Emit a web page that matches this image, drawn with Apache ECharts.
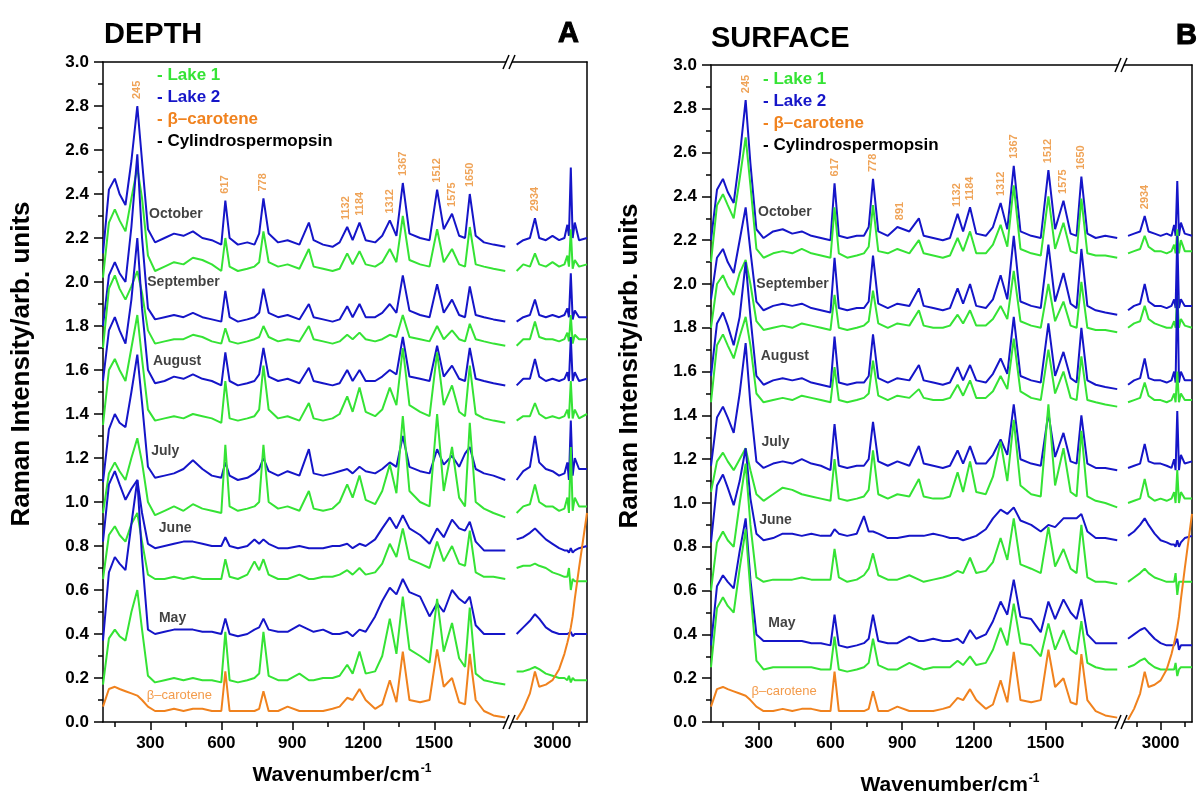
<!DOCTYPE html>
<html><head><meta charset="utf-8">
<script src="https://cdn.jsdelivr.net/npm/echarts@6/dist/echarts.min.js"></script>
<style>html,body{margin:0;padding:0;background:#fff}#c{width:1197px;height:798px}</style>
</head><body><div id="c"></div>
<script>
// ---------- DATA ----------
const wn1 = [100,125,150,170,195,220,245,265,290, 320,360,400,440,480,520,560,600, 617,635,670,710,740,760,778,800, 840,880,930,970,990,1030,1070,1100, 1132,1155,1184,1210,1250,1280,1312,1340, 1367,1395,1440,1480,1512,1540,1575,1605, 1630,1650,1675,1710,1750,1800];
const wn2 = [2865,2890,2915,2934,2950,2975,3000,3025,3045,3056,3062,3069,3076,3084,3100,3130];
const xTickLabels1 = [300,600,900,1200,1500];
const xMinorTicks1 = [150,450,750,1050,1350,1650];
const xTickLabels2 = [3000];
const xMinorTicks2 = [2900,3100];

// DEPTH (panel A)
const depthOctL2 = [2.13,2.42,2.47,2.40,2.35,2.55,2.80,2.55,2.24, 2.18,2.20,2.22,2.21,2.23,2.20,2.19,2.17, 2.37,2.20,2.17,2.18,2.17,2.22,2.38,2.22, 2.18,2.19,2.17,2.27,2.19,2.17,2.16,2.18, 2.25,2.19,2.27,2.19,2.18,2.21,2.28,2.21, 2.45,2.22,2.20,2.19,2.42,2.24,2.31,2.21, 2.20,2.40,2.21,2.18,2.17,2.16];
const depthOctL1 = [2.02,2.27,2.33,2.28,2.23,2.38,2.52,2.38,2.12, 2.05,2.07,2.09,2.08,2.11,2.10,2.08,2.05, 2.20,2.07,2.05,2.06,2.07,2.09,2.23,2.09, 2.07,2.08,2.06,2.15,2.07,2.06,2.05,2.06, 2.13,2.08,2.14,2.08,2.07,2.09,2.15,2.09, 2.30,2.10,2.08,2.07,2.24,2.09,2.15,2.08, 2.07,2.25,2.08,2.07,2.06,2.05];
const depthSepL2 = [1.80,2.03,2.09,2.04,2.00,2.25,2.58,2.20,1.88, 1.83,1.84,1.85,1.84,1.86,1.84,1.83,1.82, 1.96,1.84,1.82,1.83,1.84,1.86,1.97,1.86, 1.84,1.85,1.83,1.90,1.84,1.83,1.82,1.83, 1.89,1.84,1.90,1.84,1.84,1.86,1.90,1.86, 2.03,1.87,1.85,1.84,1.99,1.86,1.92,1.85, 1.84,1.98,1.85,1.84,1.83,1.82];
const depthSepL1 = [1.70,1.97,2.03,1.97,1.92,1.98,2.05,1.95,1.78, 1.72,1.73,1.74,1.74,1.76,1.75,1.73,1.72, 1.79,1.73,1.72,1.73,1.74,1.75,1.80,1.75, 1.73,1.74,1.73,1.80,1.74,1.73,1.72,1.73, 1.76,1.74,1.77,1.74,1.73,1.74,1.76,1.75, 1.85,1.75,1.74,1.73,1.80,1.74,1.78,1.74, 1.73,1.81,1.74,1.73,1.72,1.71];
const depthAugL2 = [1.55,1.78,1.84,1.78,1.72,1.92,2.20,1.88,1.60, 1.54,1.55,1.57,1.56,1.58,1.56,1.55,1.53, 1.68,1.55,1.53,1.54,1.55,1.58,1.70,1.57, 1.55,1.56,1.54,1.61,1.55,1.54,1.53,1.54, 1.60,1.55,1.60,1.55,1.55,1.57,1.60,1.58, 1.75,1.57,1.56,1.55,1.71,1.57,1.62,1.56, 1.55,1.70,1.56,1.55,1.54,1.53];
const depthAugL1 = [1.35,1.60,1.65,1.60,1.55,1.70,1.85,1.65,1.42, 1.37,1.38,1.39,1.38,1.40,1.39,1.38,1.36, 1.55,1.38,1.37,1.38,1.39,1.42,1.62,1.42, 1.38,1.39,1.37,1.45,1.38,1.37,1.38,1.40, 1.48,1.41,1.52,1.41,1.39,1.42,1.52,1.44, 1.70,1.44,1.41,1.39,1.68,1.44,1.53,1.41, 1.39,1.62,1.40,1.38,1.37,1.36];
const depthJulL2 = [1.09,1.33,1.40,1.36,1.34,1.50,1.67,1.45,1.16, 1.11,1.12,1.13,1.15,1.19,1.15,1.12,1.11, 1.18,1.12,1.10,1.11,1.13,1.15,1.20,1.14, 1.12,1.14,1.12,1.24,1.13,1.12,1.13,1.14, 1.15,1.13,1.16,1.14,1.13,1.15,1.18,1.16, 1.30,1.16,1.14,1.13,1.24,1.17,1.21,1.16, 1.22,1.25,1.15,1.13,1.12,1.10];
const depthJulL1 = [0.95,1.13,1.18,1.14,1.10,1.20,1.29,1.18,1.00, 0.94,0.96,0.98,0.96,0.99,0.97,0.96,0.95, 1.26,0.98,0.96,0.97,0.98,1.00,1.26,1.00, 0.97,0.98,0.96,1.05,0.97,0.96,0.97,1.00, 1.08,1.02,1.12,1.01,0.99,1.05,1.17,1.04, 1.39,1.05,1.00,0.98,1.40,1.05,1.25,1.02, 0.98,1.36,1.00,0.97,0.95,0.93];
const depthJunL2 = [0.82,1.08,1.14,1.08,1.01,1.06,1.10,0.95,0.81, 0.79,0.80,0.81,0.82,0.82,0.81,0.80,0.80, 0.84,0.80,0.79,0.80,0.83,0.81,0.83,0.81, 0.79,0.79,0.80,0.79,0.79,0.79,0.80,0.80, 0.81,0.79,0.81,0.80,0.83,0.88,0.93,0.88, 0.94,0.88,0.85,0.81,0.88,0.84,0.92,0.88, 0.87,0.91,0.82,0.78,0.78,0.78];
const depthJunL1 = [0.65,0.85,0.89,0.85,0.82,0.90,0.95,0.82,0.67, 0.65,0.65,0.66,0.65,0.66,0.65,0.65,0.65, 0.74,0.66,0.65,0.67,0.73,0.69,0.74,0.67, 0.65,0.65,0.67,0.65,0.65,0.66,0.66,0.67, 0.69,0.67,0.70,0.67,0.68,0.72,0.81,0.75, 0.88,0.74,0.72,0.70,0.82,0.73,0.80,0.72, 0.71,0.87,0.68,0.66,0.66,0.65];
const depthMayL2 = [0.37,0.68,0.75,0.72,0.69,0.90,1.10,0.75,0.42, 0.40,0.41,0.42,0.42,0.42,0.41,0.41,0.40, 0.47,0.40,0.39,0.40,0.42,0.43,0.47,0.42, 0.41,0.41,0.44,0.42,0.41,0.42,0.40,0.40, 0.41,0.39,0.42,0.41,0.48,0.55,0.61,0.58, 0.65,0.59,0.57,0.48,0.54,0.50,0.60,0.56, 0.54,0.57,0.44,0.40,0.40,0.40];
const depthMayL1 = [0.17,0.38,0.42,0.39,0.37,0.50,0.60,0.42,0.21, 0.18,0.19,0.20,0.19,0.20,0.19,0.19,0.18, 0.41,0.19,0.18,0.19,0.20,0.22,0.41,0.21, 0.19,0.19,0.22,0.19,0.19,0.20,0.20,0.21, 0.26,0.22,0.32,0.22,0.23,0.30,0.47,0.31, 0.57,0.33,0.30,0.27,0.56,0.32,0.45,0.29, 0.25,0.52,0.22,0.19,0.18,0.17];
const carotene = [0.07,0.15,0.16,0.15,0.14,0.13,0.12,0.10,0.07, 0.05,0.05,0.06,0.05,0.06,0.06,0.05,0.05, 0.23,0.05,0.05,0.05,0.05,0.06,0.14,0.05, 0.05,0.07,0.05,0.05,0.05,0.05,0.06,0.07, 0.11,0.10,0.15,0.10,0.06,0.08,0.19,0.09, 0.32,0.10,0.09,0.10,0.33,0.16,0.20,0.09, 0.08,0.31,0.10,0.05,0.03,0.02];

const depthOctL2Hi = [2.17,2.19,2.20,2.29,2.20,2.19,2.21,2.19,2.20,2.26,2.21,2.52,2.20,2.27,2.19,2.20];
const depthOctL1Hi = [2.05,2.08,2.07,2.13,2.08,2.07,2.09,2.07,2.08,2.12,2.07,2.24,2.06,2.10,2.07,2.08];
const depthSepL2Hi = [1.82,1.84,1.85,1.92,1.85,1.84,1.85,1.84,1.85,1.88,1.84,2.04,1.83,1.87,1.84,1.84];
const depthSepL1Hi = [1.71,1.74,1.74,1.82,1.75,1.74,1.74,1.73,1.74,1.77,1.73,1.85,1.72,1.76,1.74,1.74];
const depthAugL2Hi = [1.53,1.56,1.56,1.65,1.57,1.55,1.56,1.55,1.56,1.59,1.55,1.75,1.55,1.59,1.55,1.56];
const depthAugL1Hi = [1.37,1.39,1.39,1.45,1.40,1.38,1.39,1.38,1.39,1.42,1.38,1.55,1.38,1.42,1.38,1.40];
const depthJulL2Hi = [1.10,1.14,1.16,1.30,1.18,1.15,1.14,1.12,1.13,1.18,1.10,1.37,1.12,1.20,1.15,1.15];
const depthJulL1Hi = [0.95,0.98,0.99,1.08,1.00,0.98,0.98,0.96,0.97,1.02,0.95,1.25,0.96,1.02,0.98,0.98];
const depthJunL2Hi = [0.83,0.84,0.86,0.88,0.86,0.83,0.81,0.79,0.78,0.78,0.77,0.79,0.77,0.78,0.79,0.80];
const depthJunL1Hi = [0.70,0.71,0.71,0.72,0.71,0.70,0.68,0.67,0.66,0.66,0.70,0.60,0.65,0.64,0.64,0.64];
const depthMayL2Hi = [0.40,0.43,0.46,0.49,0.47,0.43,0.41,0.40,0.40,0.40,0.40,0.41,0.39,0.40,0.40,0.40];
const depthMayL1Hi = [0.23,0.23,0.24,0.25,0.24,0.22,0.21,0.20,0.20,0.19,0.21,0.18,0.20,0.19,0.19,0.19];
const caroteneHi   = [0.01,0.06,0.13,0.23,0.16,0.17,0.19,0.24,0.31,0.36,0.39,0.43,0.48,0.56,0.70,0.95];

// SURFACE (panel B)
const surfOctL2 = [2.20,2.43,2.48,2.42,2.37,2.58,2.84,2.55,2.25, 2.21,2.24,2.25,2.23,2.24,2.22,2.21,2.20, 2.46,2.22,2.21,2.22,2.22,2.26,2.48,2.24, 2.22,2.26,2.24,2.30,2.22,2.21,2.20,2.21, 2.32,2.24,2.35,2.23,2.22,2.26,2.37,2.25, 2.54,2.24,2.22,2.21,2.52,2.25,2.38,2.23, 2.22,2.49,2.23,2.21,2.22,2.21];
const surfOctL1 = [2.10,2.36,2.41,2.36,2.30,2.48,2.67,2.45,2.16, 2.12,2.14,2.15,2.14,2.16,2.14,2.13,2.12, 2.35,2.14,2.12,2.13,2.14,2.17,2.36,2.15, 2.14,2.16,2.14,2.20,2.14,2.13,2.12,2.13, 2.21,2.15,2.24,2.14,2.14,2.18,2.27,2.17, 2.45,2.16,2.14,2.13,2.40,2.16,2.28,2.15, 2.14,2.39,2.14,2.13,2.13,2.12];
const surfSepL2 = [1.93,2.12,2.16,2.10,2.05,2.20,2.35,2.15,1.92, 1.88,1.90,1.91,1.90,1.91,1.89,1.88,1.87, 2.12,1.89,1.88,1.89,1.89,1.92,2.13,1.91, 1.89,1.91,1.90,1.98,1.90,1.89,1.88,1.89, 1.98,1.91,2.00,1.90,1.89,1.93,2.04,1.93, 2.22,1.92,1.90,1.89,2.18,1.92,2.05,1.91, 1.89,2.16,1.90,1.88,1.87,1.86];
const surfSepL1 = [1.80,2.00,2.04,1.99,1.95,2.05,2.11,2.00,1.83, 1.79,1.80,1.81,1.80,1.82,1.81,1.80,1.79, 1.95,1.80,1.79,1.80,1.81,1.83,1.97,1.82, 1.80,1.82,1.81,1.88,1.81,1.80,1.80,1.81, 1.86,1.82,1.88,1.81,1.81,1.84,1.90,1.84, 2.06,1.83,1.81,1.80,2.00,1.83,1.92,1.81, 1.80,2.01,1.80,1.79,1.79,1.78];
const surfAugL2 = [1.58,1.82,1.87,1.81,1.72,1.85,2.10,1.85,1.58, 1.54,1.56,1.57,1.56,1.57,1.55,1.54,1.53, 1.76,1.55,1.54,1.55,1.55,1.58,1.77,1.57, 1.55,1.57,1.56,1.63,1.56,1.55,1.54,1.55, 1.62,1.56,1.63,1.56,1.55,1.59,1.66,1.59, 1.85,1.58,1.56,1.55,1.82,1.58,1.69,1.57, 1.55,1.80,1.56,1.54,1.53,1.52];
const surfAugL1 = [1.46,1.72,1.77,1.72,1.66,1.76,1.85,1.72,1.50, 1.46,1.47,1.48,1.47,1.49,1.48,1.47,1.46, 1.62,1.47,1.46,1.47,1.48,1.50,1.65,1.49, 1.47,1.49,1.48,1.52,1.48,1.47,1.47,1.48, 1.54,1.49,1.56,1.48,1.48,1.51,1.58,1.52, 1.75,1.51,1.48,1.47,1.70,1.50,1.60,1.48, 1.47,1.67,1.47,1.46,1.45,1.44];
const surfJulL2 = [1.17,1.39,1.44,1.39,1.32,1.50,1.73,1.45,1.19, 1.16,1.18,1.19,1.18,1.20,1.18,1.17,1.15, 1.36,1.17,1.16,1.17,1.17,1.20,1.37,1.19, 1.17,1.19,1.17,1.26,1.18,1.17,1.16,1.17, 1.24,1.18,1.26,1.18,1.18,1.22,1.29,1.22, 1.45,1.20,1.18,1.17,1.41,1.21,1.32,1.19, 1.18,1.40,1.18,1.16,1.16,1.15];
const surfJulL1 = [1.05,1.19,1.23,1.19,1.15,1.20,1.25,1.15,1.04, 1.01,1.04,1.07,1.06,1.04,1.03,1.02,1.01, 1.20,1.02,1.01,1.02,1.03,1.06,1.24,1.04, 1.02,1.04,1.03,1.11,1.03,1.02,1.02,1.03, 1.14,1.05,1.19,1.05,1.04,1.12,1.28,1.10, 1.38,1.08,1.04,1.03,1.45,1.08,1.25,1.05, 1.03,1.33,1.03,1.01,1.00,0.98];
const surfJunL2 = [0.82,1.08,1.13,1.07,0.99,1.10,1.25,1.02,0.86, 0.83,0.84,0.86,0.86,0.85,0.86,0.85,0.85, 0.88,0.86,0.85,0.86,0.94,0.87,0.87,0.86, 0.84,0.84,0.85,0.85,0.85,0.86,0.85,0.84, 0.84,0.83,0.84,0.85,0.88,0.93,0.97,0.95, 0.98,0.92,0.90,0.87,0.90,0.89,0.93,0.93, 0.93,0.95,0.87,0.84,0.84,0.83];
const surfJunL1 = [0.60,0.82,0.87,0.83,0.80,1.00,1.18,0.90,0.66, 0.64,0.65,0.65,0.65,0.66,0.65,0.65,0.65, 0.79,0.66,0.64,0.65,0.67,0.70,0.77,0.67, 0.65,0.65,0.67,0.65,0.64,0.65,0.66,0.67, 0.69,0.68,0.75,0.68,0.69,0.73,0.84,0.74, 0.93,0.72,0.70,0.68,0.89,0.71,0.79,0.70, 0.68,0.90,0.66,0.64,0.64,0.63];
const surfMayL2 = [0.35,0.62,0.67,0.64,0.61,0.78,0.93,0.65,0.40, 0.37,0.37,0.37,0.37,0.37,0.36,0.36,0.35, 0.49,0.35,0.34,0.35,0.36,0.38,0.49,0.37, 0.36,0.36,0.39,0.37,0.37,0.38,0.37,0.37, 0.38,0.36,0.42,0.38,0.40,0.46,0.55,0.49, 0.65,0.48,0.47,0.41,0.55,0.47,0.56,0.50, 0.47,0.56,0.40,0.36,0.36,0.36];
const surfMayL1 = [0.25,0.52,0.57,0.53,0.50,0.70,0.88,0.60,0.28, 0.24,0.25,0.25,0.25,0.25,0.25,0.24,0.24, 0.39,0.24,0.23,0.24,0.25,0.27,0.38,0.26, 0.24,0.24,0.27,0.25,0.24,0.25,0.25,0.25, 0.28,0.26,0.30,0.26,0.27,0.33,0.43,0.35, 0.54,0.36,0.35,0.30,0.45,0.33,0.42,0.33, 0.31,0.46,0.27,0.25,0.24,0.24];

const surfOctL2Hi = [2.22,2.23,2.24,2.31,2.24,2.23,2.22,2.23,2.22,2.27,2.22,2.47,2.22,2.28,2.23,2.22];
const surfOctL1Hi = [2.14,2.15,2.16,2.22,2.17,2.15,2.15,2.14,2.15,2.18,2.14,2.25,2.14,2.20,2.15,2.15];
const surfSepL2Hi = [1.88,1.90,1.91,2.00,1.92,1.90,1.90,1.89,1.90,1.93,1.89,2.22,1.89,1.93,1.90,1.90];
const surfSepL1Hi = [1.80,1.82,1.83,1.90,1.84,1.82,1.81,1.80,1.80,1.83,1.80,1.95,1.80,1.84,1.81,1.80];
const surfAugL2Hi = [1.54,1.56,1.57,1.66,1.57,1.56,1.56,1.55,1.56,1.60,1.55,2.02,1.55,1.60,1.56,1.56];
const surfAugL1Hi = [1.46,1.47,1.48,1.55,1.49,1.47,1.47,1.46,1.47,1.50,1.46,1.60,1.46,1.50,1.47,1.47];
const surfJulL2Hi = [1.16,1.17,1.18,1.27,1.19,1.18,1.18,1.17,1.16,1.20,1.15,1.42,1.15,1.22,1.18,1.19];
const surfJulL1Hi = [1.00,1.01,1.02,1.11,1.03,1.01,1.02,1.01,1.02,1.05,1.00,1.15,1.00,1.05,1.02,1.02];
const surfJunL2Hi = [0.85,0.87,0.90,0.93,0.90,0.86,0.83,0.82,0.81,0.81,0.80,0.83,0.80,0.82,0.84,0.85];
const surfJunL1Hi = [0.64,0.66,0.68,0.70,0.68,0.66,0.65,0.64,0.64,0.64,0.68,0.58,0.64,0.64,0.64,0.64];
const surfMayL2Hi = [0.38,0.40,0.42,0.43,0.41,0.38,0.36,0.35,0.35,0.35,0.35,0.38,0.33,0.35,0.35,0.35];
const surfMayL1Hi = [0.25,0.26,0.28,0.29,0.27,0.25,0.24,0.24,0.24,0.24,0.27,0.21,0.24,0.25,0.25,0.25];

// annotations
const monthNames = ['October','September','August','July','June','May'];
const depthMonthAt = [[408,2.31],[440,2.00],[413,1.64],[363,1.23],[405,0.88],[394,0.47]];
const surfMonthAt  = [[409,2.33],[441,2.00],[409,1.67],[370,1.28],[370,0.92],[397,0.45]];
const depthCaroteneAt = [423,0.12];
const surfCaroteneAt  = [406,0.14];
const depthPeakNames = ['245','617','778','1132','1184','1312','1367','1512','1575','1650'];
const depthPeakAt = [[245,2.82],[617,2.39],[778,2.40],[1126,2.27],[1184,2.29],[1312,2.30],[1367,2.47],[1512,2.44],[1575,2.33],[1650,2.42]];
const surfPeakNames = ['245','617','778','891','1132','1184','1312','1367','1512','1575','1650'];
const surfPeakAt = [[245,2.86],[617,2.48],[778,2.50],[891,2.28],[1128,2.34],[1184,2.37],[1312,2.39],[1367,2.56],[1512,2.54],[1575,2.40],[1650,2.51]];
const hiPeakName = '2934';
const depthHiPeakAt = [2934,2.31];
const surfHiPeakAt  = [2934,2.33];

// ---------- CHART ----------
const FONT = '"Liberation Sans", Arial, sans-serif';
const BLUE = '#1515c8', GREEN = '#35e335', ORANGE = '#f0821e', PEAKC = '#eb8c2d';
const zip = (xs, ys) => xs.map((x, i) => [x, ys[i]]);

const panels = [
  { left:103, top:62, w1:407, w2:77, h:660,
    spectra:[
      [depthOctL2,depthOctL2Hi,BLUE],[depthOctL1,depthOctL1Hi,GREEN],
      [depthSepL2,depthSepL2Hi,BLUE],[depthSepL1,depthSepL1Hi,GREEN],
      [depthAugL2,depthAugL2Hi,BLUE],[depthAugL1,depthAugL1Hi,GREEN],
      [depthJulL2,depthJulL2Hi,BLUE],[depthJulL1,depthJulL1Hi,GREEN],
      [depthJunL2,depthJunL2Hi,BLUE],[depthJunL1,depthJunL1Hi,GREEN],
      [depthMayL2,depthMayL2Hi,BLUE],[depthMayL1,depthMayL1Hi,GREEN],
      [carotene,caroteneHi,ORANGE]],
    monthAt:depthMonthAt, carAt:depthCaroteneAt, peakNames:depthPeakNames, peakAt:depthPeakAt, hiAt:depthHiPeakAt,
    title:'DEPTH', tag:'A', titleX:104, titleY:35, tagX:558, tagY:34,
    legX:157, legY:[75,97,119,141], ytX:22, ytY:364, xtX:342, xtY:775 },
  { left:711, top:65, w1:411, w2:70, h:657,
    spectra:[
      [surfOctL2,surfOctL2Hi,BLUE],[surfOctL1,surfOctL1Hi,GREEN],
      [surfSepL2,surfSepL2Hi,BLUE],[surfSepL1,surfSepL1Hi,GREEN],
      [surfAugL2,surfAugL2Hi,BLUE],[surfAugL1,surfAugL1Hi,GREEN],
      [surfJulL2,surfJulL2Hi,BLUE],[surfJulL1,surfJulL1Hi,GREEN],
      [surfJunL2,surfJunL2Hi,BLUE],[surfJunL1,surfJunL1Hi,GREEN],
      [surfMayL2,surfMayL2Hi,BLUE],[surfMayL1,surfMayL1Hi,GREEN],
      [carotene,caroteneHi,ORANGE]],
    monthAt:surfMonthAt, carAt:surfCaroteneAt, peakNames:surfPeakNames, peakAt:surfPeakAt, hiAt:surfHiPeakAt,
    title:'SURFACE', tag:'B', titleX:711, titleY:39, tagX:1176, tagY:36,
    legX:763, legY:[79,101,123,145], ytX:630, ytY:366, xtX:950, xtY:785 }
];

const grid = [], xAxis = [], yAxis = [], series = [], graphic = [];
const LINE = {color:'#000', width:1.5};
const labelStyle = {fontFamily:FONT, fontWeight:'bold', fontSize:17, color:'#000'};

panels.forEach((p, k) => {
  const g1 = 2*k, g2 = 2*k+1;
  grid.push({left:p.left, top:p.top, width:p.w1, height:p.h, containLabel:false, outerBoundsMode:'none'});
  grid.push({left:p.left+p.w1, top:p.top, width:p.w2, height:p.h, containLabel:false, outerBoundsMode:'none'});
  const segs = [[g1,100,1820,xTickLabels1,xMinorTicks1],[g2,2840,3130,xTickLabels2,xMinorTicks2]];
  segs.forEach(([g,mn,mx,maj,mnr]) => {
    xAxis.push({gridIndex:g, type:'value', min:mn, max:mx, position:'bottom',
      axisLine:{show:true, onZero:false, lineStyle:LINE},
      axisTick:{show:true, customValues:maj, length:8, lineStyle:LINE},
      axisLabel:{show:true, customValues:maj, margin:13, formatter:v => String(Math.round(v)), ...labelStyle},
      splitLine:{show:false}});
    xAxis.push({gridIndex:g, type:'value', min:mn, max:mx, position:'bottom',
      axisLine:{show:false, onZero:false},
      axisTick:{show:true, customValues:mnr, length:5, lineStyle:LINE},
      axisLabel:{show:false}, splitLine:{show:false}});
    xAxis.push({gridIndex:g, type:'value', min:mn, max:mx, position:'top',
      axisLine:{show:true, onZero:false, lineStyle:LINE},
      axisTick:{show:false}, axisLabel:{show:false}, splitLine:{show:false}});
  });
  yAxis.push({gridIndex:g1, type:'value', min:0, max:3, interval:0.2, position:'left',
    axisLine:{show:true, onZero:false, lineStyle:LINE},
    axisTick:{show:true, length:9, lineStyle:LINE},
    minorTick:{show:true, splitNumber:2, length:5, lineStyle:LINE},
    axisLabel:{margin:14, formatter:v => v.toFixed(1), ...labelStyle},
    splitLine:{show:false}, minorSplitLine:{show:false}});
  yAxis.push({gridIndex:g2, type:'value', min:0, max:3, position:'right',
    axisLine:{show:true, onZero:false, lineStyle:LINE},
    axisTick:{show:false}, axisLabel:{show:false}, splitLine:{show:false}});

  const x1 = 6*k, x2 = 6*k+3, y1 = 2*k, y2 = 2*k+1;
  p.spectra.forEach(([lo, hi, col], i) => {
    const base = {type:'line', showSymbol:false, symbol:'none', silent:true, animation:false,
      lineStyle:{color:col, width:2}, itemStyle:{color:col}, z:2+i*0.01};
    series.push({...base, xAxisIndex:x1, yAxisIndex:y1, data:zip(wn1, lo)});
    series.push({...base, xAxisIndex:x2, yAxisIndex:y2, data:zip(wn2, hi)});
  });
  // month labels
  series.push({type:'scatter', xAxisIndex:x1, yAxisIndex:y1, symbolSize:1, itemStyle:{color:'rgba(0,0,0,0)'}, silent:true, z:5,
    data: monthNames.map((n,i) => ({name:n, value:p.monthAt[i]})),
    label:{show:true, position:'inside', formatter:'{b}', fontFamily:FONT, fontWeight:'bold', fontSize:14, color:'#111'}});
  series.push({type:'scatter', xAxisIndex:x1, yAxisIndex:y1, symbolSize:1, itemStyle:{color:'rgba(0,0,0,0)'}, silent:true, z:5,
    data: [{name:'β–carotene', value:p.carAt}],
    label:{show:true, position:'inside', formatter:'{b}', fontFamily:FONT, fontSize:13, color:ORANGE}});
  // peak labels
  const peakLabel = {show:true, position:'top', distance:2, rotate:90, align:'left', verticalAlign:'middle',
    formatter:'{b}', fontFamily:FONT, fontWeight:'bold', fontSize:11, color:PEAKC};
  series.push({type:'scatter', xAxisIndex:x1, yAxisIndex:y1, symbolSize:1, itemStyle:{color:'rgba(0,0,0,0)'}, silent:true, z:5,
    data: p.peakNames.map((n,i) => ({name:n, value:p.peakAt[i]})), label:peakLabel});
  series.push({type:'scatter', xAxisIndex:x2, yAxisIndex:y2, symbolSize:1, itemStyle:{color:'rgba(0,0,0,0)'}, silent:true, z:5,
    data: [{name:hiPeakName, value:p.hiAt}], label:peakLabel});

  // texts
  const T = (x, y, text, font, fill, extra) => graphic.push({type:'text', x, y, z:100, silent:true,
    style:Object.assign({text, font, fill, align:'left', verticalAlign:'middle'}, extra||{})});
  T(p.titleX, p.titleY, p.title, 'bold 29px ' + FONT, '#000');
  T(p.tagX, p.tagY, p.tag, 'bold 29px ' + FONT, '#000', {stroke:'#000', lineWidth:1});
  const leg = [['- Lake 1', GREEN],['- Lake 2', BLUE],['- β–carotene', ORANGE],['- Cylindrospermopsin', '#000']];
  leg.forEach(([t,c],i) => T(p.legX, p.legY[i], t, 'bold 17px ' + FONT, c));
  graphic.push({type:'text', x:p.ytX, y:p.ytY, rotation:Math.PI/2, z:100, silent:true,
    style:{text:'Raman Intensity/arb. units', font:'bold 26px ' + FONT, fill:'#000', align:'center', verticalAlign:'middle'}});
  graphic.push({type:'text', x:p.xtX, y:p.xtY, z:100, silent:true,
    style:{text:'{a|Wavenumber/cm}{b|-1}', fill:'#000', align:'center', verticalAlign:'middle',
      rich:{a:{fontFamily:FONT, fontWeight:'bold', fontSize:21, color:'#000'},
            b:{fontFamily:FONT, fontWeight:'bold', fontSize:12, color:'#000', padding:[0,0,12,1]}}}});
  // break marks
  const bx = p.left + p.w1;
  [p.top, p.top + p.h].forEach(y => {
    graphic.push({type:'polygon', z:100, silent:true, shape:{points:[[bx-7,y+7],[bx-1,y-7],[bx+5,y-7],[bx-1,y+7]]}, style:{fill:'#fff'}});
    graphic.push({type:'line', z:101, silent:true, shape:{x1:bx-7,y1:y+7,x2:bx-1,y2:y-7}, style:{stroke:'#000', lineWidth:1.5}});
    graphic.push({type:'line', z:101, silent:true, shape:{x1:bx-1,y1:y+7,x2:bx+5,y2:y-7}, style:{stroke:'#000', lineWidth:1.5}});
  });
});

const chart = echarts.init(document.getElementById('c'), null, {renderer:'canvas'});
chart.setOption({animation:false, backgroundColor:'#fff', grid, xAxis, yAxis, series, graphic});
</script></body></html>
